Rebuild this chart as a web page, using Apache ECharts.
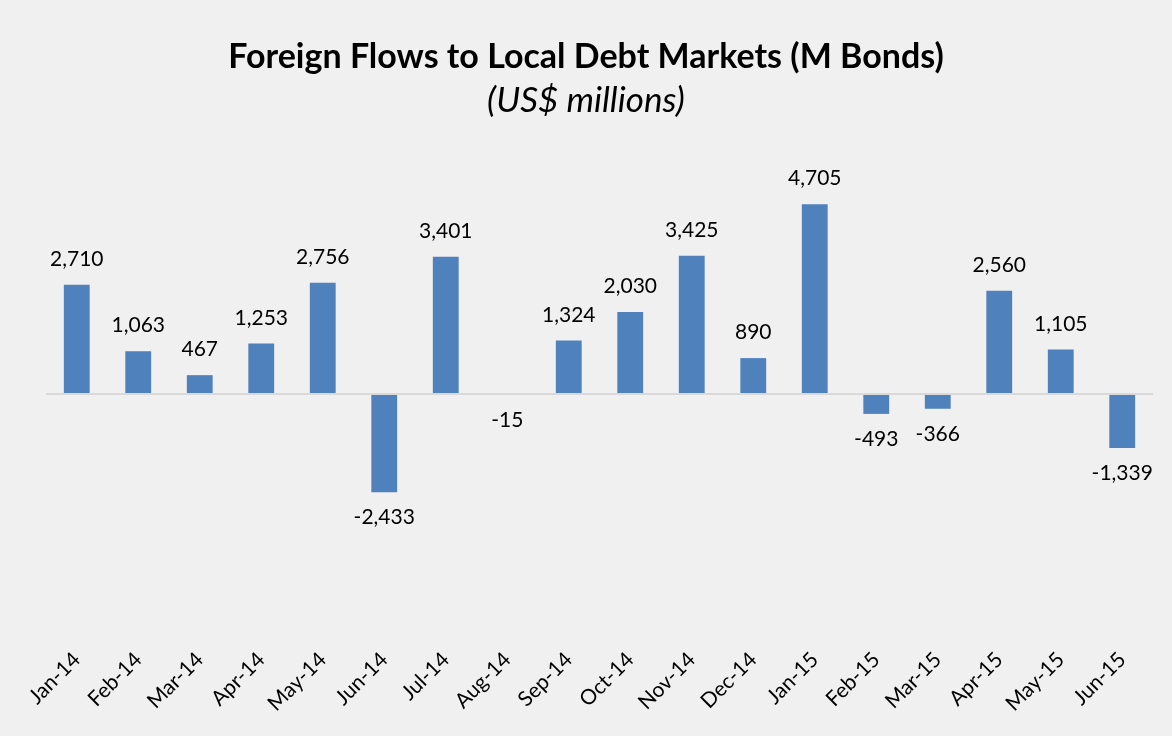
<!DOCTYPE html>
<html>
<head>
<meta charset="utf-8">
<script src="https://cdn.jsdelivr.net/npm/echarts@6/dist/echarts.min.js"></script>
<style>
html,body{margin:0;padding:0;background:#f0f0f0;}
#main{width:1172px;height:736px;}
</style>
</head>
<body>
<div id="main"></div>
<script>
var months = ["Jan-14","Feb-14","Mar-14","Apr-14","May-14","Jun-14","Jul-14","Aug-14","Sep-14",
    "Oct-14","Nov-14","Dec-14","Jan-15","Feb-15","Mar-15","Apr-15","May-15","Jun-15"];
var flows = [2710,1063,467,1253,2756,-2433,3401,-15,1324,2030,3425,890,4705,-493,-366,2560,1105,-1339];

var font = "Lato, 'Open Sans', sans-serif";

var barData = flows.map(function(v){
    return {
        value: v,
        label: {position: v < 0 ? "bottom" : "top"}
    };
});

var mychart = echarts.init(document.getElementById("main"));
mychart.setOption({
    backgroundColor: "#f0f0f0",
    animation: false,
    title: [{
        text: "Foreign Flows to Local Debt Markets (M Bonds)",
        left: "center",
        top: 35,
        textStyle: {fontFamily: font, fontWeight: "bold", fontSize: 34, color: "#000"}
    },{
        text: "(US$ millions)",
        left: "center",
        top: 78,
        textStyle: {fontFamily: font, fontStyle: "italic", fontWeight: "normal", fontSize: 35, color: "#000"}
    }],
    grid: {left: 46, right: 19, top: 152, bottom: 100},
    xAxis: {
        type: "category",
        data: months,
        axisLine: {show: false},
        axisTick: {show: false},
        axisLabel: {
            rotate: 45,
            margin: 20,
            interval: 0,
            fontFamily: font,
            fontSize: 21,
            color: "#000"
        }
    },
    yAxis: {
        type: "value",
        min: -6000,
        max: 6000,
        show: false,
        splitLine: {show: false}
    },
    series: [{
        type: "bar",
        data: barData,
        barWidth: "42%",
        itemStyle: {color: "#4f81bd"},
        label: {
            show: true,
            distance: 15,
            fontFamily: font,
            fontSize: 21,
            color: "#000",
            formatter: function(p){ return p.value.toLocaleString("en-US"); }
        },
        markLine: {
            silent: true,
            symbol: "none",
            label: {show: false},
            lineStyle: {color: "#d9d9d9", width: 2, type: "solid"},
            data: [{yAxis: 0}]
        }
    }]
});
</script>
</body>
</html>
